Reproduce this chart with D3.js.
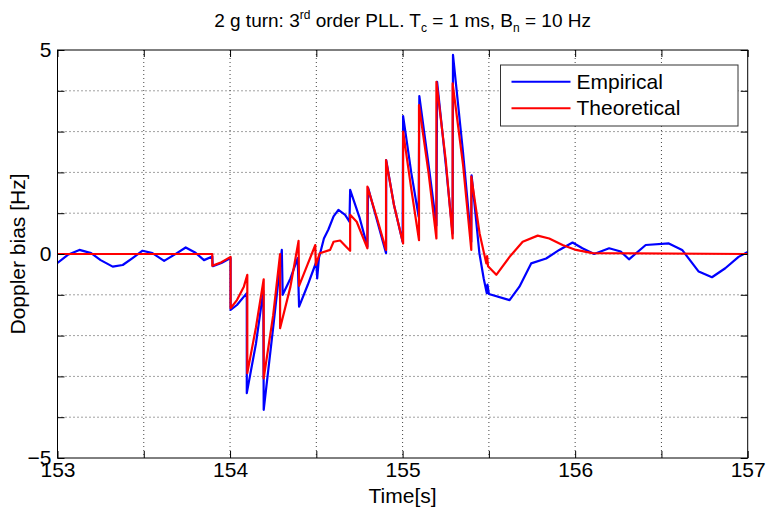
<!DOCTYPE html>
<html>
<head>
<meta charset="utf-8">
<script src="https://cdn.jsdelivr.net/npm/d3@7"></script>
<style>
  body { margin: 0; background: #fff; }
  text { font-family: "Liberation Sans", Arial, sans-serif; fill: #000; }
</style>
</head>
<body>
<div id="wrapper"></div>
<script>
// time [s] and Doppler bias [Hz] (repeated times = jumps)
const empiricalT = [153.0, 153.06, 153.127, 153.195, 153.25, 153.32, 153.378, 153.435, 153.493, 153.55,
  153.618, 153.676, 153.743, 153.8, 153.849, 153.897, 153.9, 153.95, 154.003, 154.003,
  154.04, 154.097, 154.097, 154.15, 154.193, 154.195, 154.25, 154.3, 154.305, 154.35,
  154.392, 154.4, 154.45, 154.5, 154.505, 154.515, 154.544, 154.57, 154.6, 154.628,
  154.667, 154.692, 154.696, 154.75, 154.796, 154.8, 154.85, 154.904, 154.905, 154.95,
  155.0, 155.003, 155.05, 155.093, 155.097, 155.15, 155.196, 155.2, 155.25, 155.29,
  155.292, 155.35, 155.398, 155.4, 155.445, 155.47, 155.488, 155.492, 155.5, 155.62,
  155.677, 155.745, 155.832, 155.908, 155.985, 156.042, 156.11, 156.197, 156.264, 156.312,
  156.409, 156.543, 156.62, 156.716, 156.793, 156.87, 156.947, 157.0]
const empiricalV = [-0.22, -0.02, 0.1, 0.02, -0.15, -0.31, -0.27, -0.1, 0.08, 0.02,
  -0.17, -0.02, 0.16, 0.03, -0.15, -0.06, -0.3, -0.22, -0.1, -1.37,
  -1.25, -0.96, -3.41, -2.2, -0.9, -3.82, -1.8, 0.1, -1.0, -0.6,
  -0.1, -1.29, -0.76, -0.19, -0.6, -0.1, 0.38, 0.6, 0.92, 1.08,
  0.96, 0.79, 1.57, 0.9, 0.18, 1.62, 0.85, 0.02, 2.3, 1.2,
  0.3, 3.38, 2.0, 0.92, 3.87, 2.2, 0.7, 4.22, 2.2, 0.5,
  4.88, 2.5, 0.3, 1.93, 0.02, -0.6, -0.96, -0.75, -0.98, -1.13,
  -0.8, -0.23, -0.11, 0.1, 0.28, 0.14, 0.0, 0.14, 0.06, -0.13,
  0.22, 0.26, 0.1, -0.43, -0.57, -0.35, -0.07, 0.05]

const theoreticalT = [153.0, 153.897, 153.897, 153.95, 154.003, 154.003, 154.04, 154.08, 154.1, 154.1,
  154.15, 154.195, 154.195, 154.25, 154.29, 154.29, 154.35, 154.397, 154.4, 154.45,
  154.494, 154.497, 154.52, 154.58, 154.6, 154.638, 154.677, 154.696, 154.696, 154.734,
  154.796, 154.796, 154.85, 154.904, 154.904, 154.95, 155.003, 155.003, 155.05, 155.095,
  155.095, 155.15, 155.196, 155.196, 155.25, 155.29, 155.29, 155.35, 155.398, 155.398,
  155.446, 155.485, 155.49, 155.495, 155.543, 155.62, 155.696, 155.783, 155.85, 155.927,
  156.005, 156.1, 157.0]
const theoreticalV = [0, 0, -0.29, -0.2, -0.07, -1.33, -1.13, -0.8, -0.51, -2.92,
  -1.8, -0.62, -3.05, -1.5, 0.0, -1.82, -0.8, 0.32, -0.78, -0.25,
  0.22, -0.27, 0.02, 0.1, 0.3, 0.33, 0.16, 0.08, 0.96, 0.79,
  0.14, 1.65, 0.9, 0.1, 2.3, 1.2, 0.26, 3.0, 1.6, 0.34,
  3.65, 2.0, 0.38, 4.22, 2.3, 0.38, 4.18, 2.2, 0.1, 1.9,
  0.51, -0.23, -0.05, -0.3, -0.51, -0.07, 0.3, 0.45, 0.38, 0.22,
  0.1, 0.02, 0]

const xLabelTicks = [153, 154, 155, 156, 157]
const xMinorTicks = [153.5, 154.5, 155.5, 156.5]
const yLabelTicks = [-5, 0, 5]
const yMinorTicks = [-4, -3, -2, -1, 1, 2, 3, 4]
const seriesNames = ["Empirical", "Theoretical"]
const seriesColors = ["#0000ff", "#ff0000"]

const width = 766
const height = 509
const margin = {top: 50, right: 18.3, bottom: 51, left: 57.5}
const innerW = width - margin.left - margin.right
const innerH = height - margin.top - margin.bottom

const svg = d3.select("#wrapper").append("svg")
    .attr("width", width)
    .attr("height", height)
const bounds = svg.append("g")
    .attr("transform", `translate(${margin.left},${margin.top})`)

const xScale = d3.scaleLinear().domain([153, 157]).range([0, innerW])
const yScale = d3.scaleLinear().domain([-5, 5]).range([innerH, 0])

// grid (dotted)
const allX = xLabelTicks.concat(xMinorTicks)
const allY = yLabelTicks.concat(yMinorTicks)
bounds.append("g").selectAll("line")
    .data(allX.filter(d => d > 153 && d < 157))
    .join("line")
    .attr("x1", d => xScale(d)).attr("x2", d => xScale(d))
    .attr("y1", 0).attr("y2", innerH)
    .attr("stroke", "#444").attr("stroke-dasharray", "1,3")
bounds.append("g").selectAll("line")
    .data(allY.filter(d => d > -5 && d < 5))
    .join("line")
    .attr("y1", d => yScale(d)).attr("y2", d => yScale(d))
    .attr("x1", 0).attr("x2", innerW)
    .attr("stroke", "#444").attr("stroke-dasharray", "1,3")

// lines
svg.append("clipPath").attr("id", "clip")
  .append("rect").attr("width", innerW).attr("height", innerH)
const line = d3.line().x(d => xScale(d[0])).y(d => yScale(d[1]))
const empirical = empiricalT.map((t, i) => [t, empiricalV[i]])
const theoretical = theoreticalT.map((t, i) => [t, theoreticalV[i]])
const plot = bounds.append("g").attr("clip-path", "url(#clip)")
plot.append("path").datum(empirical)
    .attr("d", line).attr("fill", "none")
    .attr("stroke", seriesColors[0]).attr("stroke-width", 2.2)
    .attr("stroke-linejoin", "round")
plot.append("path").datum(theoretical)
    .attr("d", line).attr("fill", "none")
    .attr("stroke", seriesColors[1]).attr("stroke-width", 2.2)
    .attr("stroke-linejoin", "round")

// axes: inward ticks on all four sides
const tickLen = 7
const styleAxis = g => {
  g.select(".domain").remove()
  g.selectAll(".tick line").attr("stroke", "#000")
}
bounds.append("g")
    .attr("transform", `translate(0,${innerH})`)
    .call(d3.axisBottom(xScale).tickValues(allX).tickSize(-tickLen).tickFormat(""))
    .call(styleAxis)
bounds.append("g")
    .call(d3.axisTop(xScale).tickValues(allX).tickSize(-tickLen).tickFormat(""))
    .call(styleAxis)
bounds.append("g")
    .call(d3.axisLeft(yScale).tickValues(allY).tickSize(-tickLen).tickFormat(""))
    .call(styleAxis)
bounds.append("g")
    .attr("transform", `translate(${innerW},0)`)
    .call(d3.axisRight(yScale).tickValues(allY).tickSize(-tickLen).tickFormat(""))
    .call(styleAxis)

// tick labels
bounds.append("g")
    .attr("transform", `translate(0,${innerH})`)
    .call(d3.axisBottom(xScale).tickValues(xLabelTicks).tickSize(0).tickPadding(4).tickFormat(d3.format("d")))
    .call(g => g.select(".domain").remove())
    .selectAll("text").style("font-size", "21px").attr("fill", "#000")
bounds.append("g")
    .call(d3.axisLeft(yScale).tickValues(yLabelTicks).tickSize(0).tickPadding(6).tickFormat(d3.format("d")))
    .call(g => g.select(".domain").remove())
    .selectAll("text").style("font-size", "21px").attr("fill", "#000")

// frame
bounds.append("rect")
    .attr("width", innerW).attr("height", innerH)
    .attr("fill", "none").attr("stroke", "#000").attr("stroke-width", 1)

// axis titles
svg.append("text")
    .attr("x", margin.left + innerW / 2).attr("y", 503)
    .attr("text-anchor", "middle")
    .style("font-size", "21px")
    .text("Time[s]")
svg.append("text")
    .attr("transform", `translate(25,${margin.top + innerH / 2}) rotate(-90)`)
    .attr("text-anchor", "middle")
    .style("font-size", "21px")
    .text("Doppler bias [Hz]")

// title with super/subscripts
const title = svg.append("text")
    .attr("x", margin.left + innerW / 2).attr("y", 27)
    .attr("text-anchor", "middle")
    .style("font-size", "19px")
title.append("tspan").text("2 g turn: 3")
title.append("tspan").attr("dy", -8).style("font-size", "12px").text("rd")
title.append("tspan").attr("dy", 8).text(" order PLL. T")
title.append("tspan").attr("dy", 5).style("font-size", "12px").text("c")
title.append("tspan").attr("dy", -5).text(" = 1 ms, B")
title.append("tspan").attr("dy", 5).style("font-size", "12px").text("n")
title.append("tspan").attr("dy", -5).text(" = 10 Hz")

// legend
const legend = svg.append("g").attr("transform", "translate(500.5,65)")
legend.append("rect")
    .attr("width", 237.5).attr("height", 61)
    .attr("fill", "#fff").attr("stroke", "#333").attr("stroke-width", 1)
const items = legend.selectAll("g.item")
    .data(seriesNames)
    .join("g").attr("class", "item")
    .attr("transform", (d, i) => `translate(0,${16.7 + i * 26.6})`)
items.append("line")
    .attr("x1", 11).attr("x2", 70)
    .attr("stroke", (d, i) => seriesColors[i]).attr("stroke-width", 2)
items.append("text")
    .attr("x", 76).attr("y", 7)
    .style("font-size", "21px")
    .text(d => d)
</script>
</body>
</html>
